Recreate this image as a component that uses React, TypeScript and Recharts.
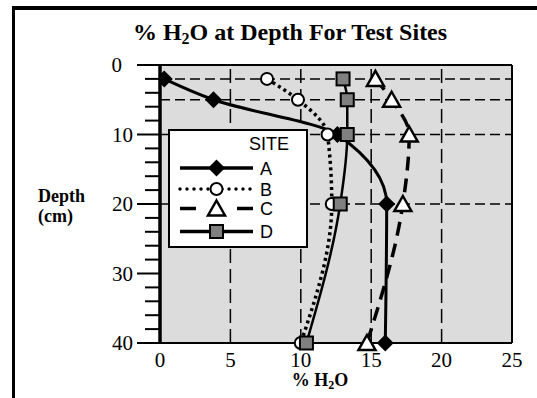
import React from 'react';
import {
    CartesianGrid,
    Legend,
    Line,
    LineChart,
    ReferenceLine,
    XAxis,
    YAxis,
} from 'recharts';

// depth (cm) of each sample, top to bottom
const depths = [2, 5, 10, 20, 40];
// % H2O per site at those depths
const siteA = [0.3, 3.8, 12.6, 16.1, 16.0];
const siteB = [7.6, 9.8, 11.9, 12.2, 10.0];
const siteC = [15.3, 16.45, 17.7, 17.25, 14.7];
const siteD = [13.0, 13.3, 13.3, 12.8, 10.4];

const siteNames = ['A', 'B', 'C', 'D'];
const xTicks = [0, 5, 10, 15, 20, 25];
const xGrid = [5, 10, 15, 20];
const yTicks = [0, 2, 4, 6, 8, 10, 12, 14, 16, 18, 20, 22, 24, 26, 28, 30, 32, 34, 36, 38, 40];
const yLabels = [0, 10, 20, 30, 40];

const data = depths.map((depth, i) => ({
    depth,
    a: siteA[i],
    b: siteB[i],
    c: siteC[i],
    d: siteD[i],
}));

const SERIF = "'Liberation Serif', 'Times New Roman', serif";
const SANS = "'Liberation Sans', Arial, sans-serif";

const Diamond = ({ cx, cy }: any) => (
    <path d={`M${cx},${cy - 8.5}L${cx + 8.5},${cy}L${cx},${cy + 8.5}L${cx - 8.5},${cy}Z`} fill="#000" />
);
const Circle = ({ cx, cy }: any) => (
    <circle cx={cx} cy={cy} r={6} fill="#fff" stroke="#000" strokeWidth={2} />
);
const Triangle = ({ cx, cy }: any) => (
    <path
        d={`M${cx},${cy - 8}L${cx + 8.5},${cy + 7}L${cx - 8.5},${cy + 7}Z`}
        fill="#fff"
        stroke="#000"
        strokeWidth={2.5}
    />
);
const Square = ({ cx, cy }: any) => (
    <rect x={cx - 6.5} y={cy - 6.5} width={13} height={13} fill="#808080" stroke="#000" strokeWidth={2} />
);

const series = [
    { key: 'a', marker: Diamond, dash: undefined, width: 3, legendDash: undefined },
    { key: 'b', marker: Circle, dash: '3 3.5', width: 3.5, legendDash: '0 7' },
    { key: 'c', marker: Triangle, dash: '14 8', width: 3.5, legendDash: '16 41' },
    { key: 'd', marker: Square, dash: undefined, width: 2.5, legendDash: undefined },
];

const YTick = ({ x, y, payload }: any) => {
    const v = payload.value;
    const major = yLabels.includes(v);
    return (
        <g>
            <line x1={x - (major ? 23 : 15)} x2={x} y1={y} y2={y} stroke="#000" strokeWidth={2} />
            {major && (
                <text
                    x={x - (v === 0 ? 38 : 27)}
                    y={y + 7}
                    textAnchor="end"
                    fontFamily={SERIF}
                    fontSize={21}
                    fill="#000"
                >
                    {v}
                </text>
            )}
        </g>
    );
};

const LegendBox = () => {
    const rows = [37, 58, 77.5, 100.5];
    return (
        <div style={{ width: 140, height: 119, boxSizing: 'border-box', border: '2px solid #000', background: '#fff' }}>
            <svg width={136} height={115} style={{ display: 'block' }}>
                <text x={79} y={19} fontFamily={SANS} fontSize={18} fill="#000">SITE</text>
                {series.map((s, i) => {
                    const M = s.marker;
                    return (
                        <g key={s.key}>
                            <line
                                x1={10}
                                x2={83}
                                y1={rows[i]}
                                y2={rows[i]}
                                stroke="#000"
                                strokeWidth={3.5}
                                strokeDasharray={s.legendDash}
                                strokeLinecap={s.key === 'b' ? 'round' : 'butt'}
                            />
                            <M cx={46.5} cy={rows[i]} />
                            <text x={90} y={rows[i] + 6.5} fontFamily={SANS} fontSize={18} fill="#000">
                                {siteNames[i]}
                            </text>
                        </g>
                    );
                })}
            </svg>
        </div>
    );
};

export default function App() {
    return (
        <div style={{ position: 'absolute', left: 0, top: 0, width: 537, height: 398, overflow: 'hidden', background: '#fff' }}>
            {/* outer frame, cut off on the right and bottom */}
            <div style={{ position: 'absolute', left: 12, top: 6, width: 525, height: 4, background: '#000', zIndex: 5 }} />
            <div style={{ position: 'absolute', left: 12, top: 6, width: 3, height: 392, background: '#000', zIndex: 5 }} />
            <div style={{ position: 'absolute', left: 0, top: 0 }}>
                <LineChart
                    width={537}
                    height={398}
                    data={data}
                    layout="vertical"
                    margin={{ top: 53, right: 25, bottom: 25, left: 100 }}
                >
                    <CartesianGrid fill="#dcdcdc" fillOpacity={1} horizontal={false} vertical={false} />
                    {xGrid.map((v) => (
                        <ReferenceLine key={'x' + v} x={v} stroke="#000" strokeWidth={1.5} strokeDasharray="14 6" />
                    ))}
                    {depths.slice(0, 4).map((v) => (
                        <ReferenceLine key={'y' + v} y={v} stroke="#000" strokeWidth={1.5} strokeDasharray="10 5" />
                    ))}
                    <ReferenceLine x={25} stroke="#000" strokeWidth={2} />
                    <XAxis
                        type="number"
                        domain={[0, 25]}
                        ticks={xTicks}
                        allowDataOverflow
                        height={30}
                        tickLine={false}
                        tickSize={6}
                        tickMargin={3}
                        axisLine={{ stroke: '#000', strokeWidth: 2 }}
                        tick={{ fontFamily: SERIF, fontSize: 21, fill: '#000' }}
                    />
                    <XAxis
                        xAxisId="top"
                        orientation="top"
                        type="number"
                        domain={[0, 25]}
                        ticks={xTicks}
                        allowDataOverflow
                        height={12}
                        tickSize={12}
                        tick={false}
                        tickLine={{ stroke: '#000', strokeWidth: 2 }}
                        axisLine={{ stroke: '#000', strokeWidth: 2 }}
                    />
                    <YAxis
                        type="number"
                        dataKey="depth"
                        domain={[0, 40]}
                        ticks={yTicks}
                        interval={0}
                        width={60}
                        tickSize={0}
                        tickMargin={0}
                        tickLine={false}
                        axisLine={{ stroke: '#000', strokeWidth: 3.5 }}
                        tick={<YTick />}
                    />
                    {series.map((s) => {
                        const M = s.marker;
                        return (
                            <Line
                                key={s.key}
                                dataKey={s.key}
                                type="monotone"
                                stroke="#000"
                                strokeWidth={s.width}
                                strokeDasharray={s.dash}
                                dot={(p: any) => <M key={s.key + p.index} cx={p.cx} cy={p.cy} />}
                                activeDot={false}
                                isAnimationActive={false}
                            />
                        );
                    })}
                    <Legend
                        layout="vertical"
                        align="center"
                        verticalAlign="middle"
                        content={<LegendBox />}
                        wrapperStyle={{ left: 168, top: 129, width: 140, height: 119 }}
                    />
                </LineChart>
            </div>
            <svg
                width={537}
                height={398}
                style={{ position: 'absolute', left: 0, top: 0, pointerEvents: 'none' }}
            >
                <text x={290} y={40} textAnchor="middle" fontFamily={SERIF} fontWeight="bold" fontSize={24} fill="#000">
                    % H<tspan dy={4} fontSize={16}>2</tspan>
                    <tspan dy={-4}>O at Depth For Test Sites</tspan>
                </text>
                <text x={38} y={202} fontFamily={SERIF} fontWeight="bold" fontSize={18} fill="#000">Depth</text>
                <text x={38} y={222} fontFamily={SERIF} fontWeight="bold" fontSize={18} fill="#000">(cm)</text>
                <text x={320} y={386} textAnchor="middle" fontFamily={SERIF} fontWeight="bold" fontSize={18} fill="#000">
                    % H<tspan dy={3} fontSize={12}>2</tspan>
                    <tspan dy={-3}>O</tspan>
                </text>
            </svg>
        </div>
    );
}
